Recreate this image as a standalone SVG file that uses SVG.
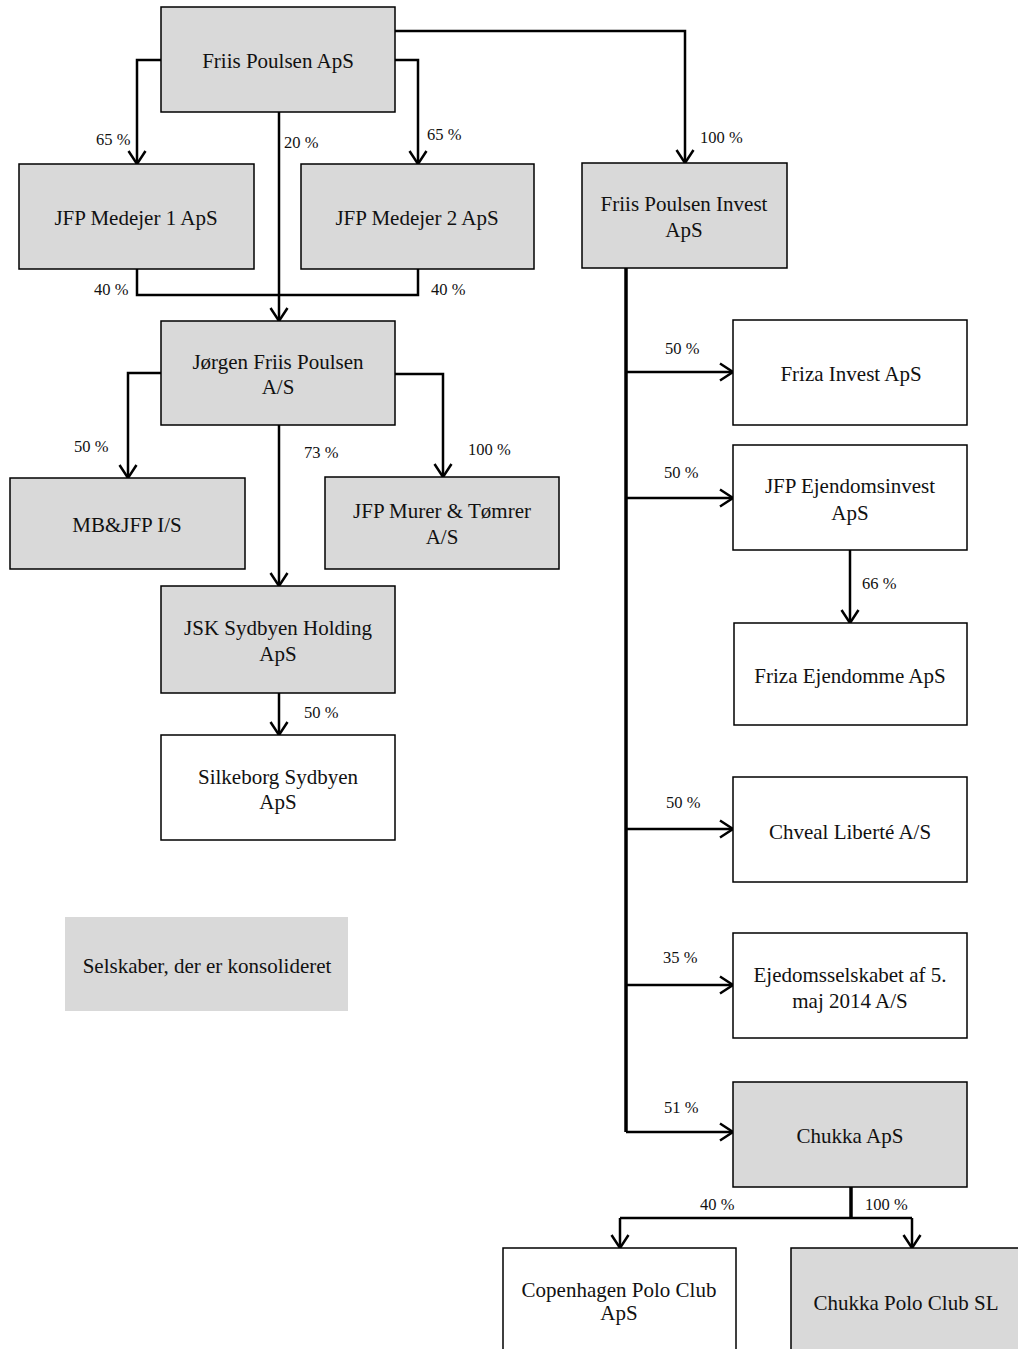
<svg xmlns="http://www.w3.org/2000/svg" width="1018" height="1349" viewBox="0 0 1018 1349">
<defs>
<marker id="arr" markerUnits="userSpaceOnUse" markerWidth="30" markerHeight="30" viewBox="-20 -15 30 30" refX="0" refY="0" orient="auto" overflow="visible">
<path d="M -13 -8.5 L 0 0 L -13 8.5" fill="none" stroke="#000" stroke-width="2.5" stroke-linejoin="miter"/>
</marker>
</defs>
<style>
.box{stroke:#000;stroke-width:1.5}
.g{fill:#d9d9d9}
.w{fill:#fff}
.t{font-family:"Liberation Serif","Times New Roman",serif;font-size:21px;fill:#111;text-anchor:middle}
.p{font-family:"Liberation Serif","Times New Roman",serif;font-size:16.5px;fill:#111}
.c{fill:none;stroke:#000;stroke-width:2.5}
.k{fill:none;stroke:#000;stroke-width:3.5}
.a{marker-end:url(#arr)}
</style>
<rect width="1018" height="1349" fill="#fff"/>

<g id="connectors">
<polyline class="c a" points="395,31 685,31 685,163"/>
<polyline class="c a" points="161,60 137,60 137,164"/>
<polyline class="c a" points="395,60 418,60 418,164"/>
<polyline class="c a" points="279,112 279,321"/>
<polyline class="c" points="137,269 137,295 418,295 418,269"/>
<polyline class="c a" points="161,373 128,373 128,478"/>
<polyline class="c a" points="395,374 443,374 443,477"/>
<polyline class="c a" points="279,425 279,586"/>
<polyline class="c a" points="279,693 279,735"/>
<polyline class="k" points="626,268 626,1132"/>
<polyline class="c a" points="626,372 733,372"/>
<polyline class="c a" points="626,498 733,498"/>
<polyline class="c a" points="626,829 733,829"/>
<polyline class="c a" points="626,985 733,985"/>
<polyline class="c a" points="626,1132 733,1132"/>
<polyline class="c a" points="850,550 850,623"/>
<polyline class="k" points="851,1187 851,1218"/>
<polyline class="c" points="620,1218 912,1218"/>
<polyline class="c a" points="620,1218 620,1248"/>
<polyline class="c a" points="912,1218 912,1248"/>
<text class="p" x="96" y="145">65 %</text>
<text class="p" x="284" y="148">20 %</text>
<text class="p" x="427" y="140">65 %</text>
<text class="p" x="700" y="143">100 %</text>
<text class="p" x="94" y="295">40 %</text>
<text class="p" x="431" y="295">40 %</text>
<text class="p" x="74" y="452">50 %</text>
<text class="p" x="304" y="458">73 %</text>
<text class="p" x="468" y="455">100 %</text>
<text class="p" x="304" y="718">50 %</text>
<text class="p" x="665" y="354">50 %</text>
<text class="p" x="664" y="478">50 %</text>
<text class="p" x="862" y="589">66 %</text>
<text class="p" x="666" y="808">50 %</text>
<text class="p" x="663" y="963">35 %</text>
<text class="p" x="664" y="1113">51 %</text>
<text class="p" x="700" y="1210">40 %</text>
<text class="p" x="865" y="1210">100 %</text>
</g>

<g id="friis-poulsen-aps">
<rect class="box g" x="161" y="7" width="234" height="105"/>
<text class="t" x="278" y="68">Friis Poulsen ApS</text>
</g>
<g id="jfp-medejer-1">
<rect class="box g" x="19" y="164" width="235" height="105"/>
<text class="t" x="136" y="225">JFP Medejer 1 ApS</text>
</g>
<g id="jfp-medejer-2">
<rect class="box g" x="301" y="164" width="233" height="105"/>
<text class="t" x="417" y="225">JFP Medejer 2 ApS</text>
</g>
<g id="friis-poulsen-invest">
<rect class="box g" x="582" y="163" width="205" height="105"/>
<text class="t" x="684" y="211">Friis Poulsen Invest</text>
<text class="t" x="684" y="237">ApS</text>
</g>
<g id="jorgen-friis-poulsen">
<rect class="box g" x="161" y="321" width="234" height="104"/>
<text class="t" x="278" y="369">Jørgen Friis Poulsen</text>
<text class="t" x="278" y="394">A/S</text>
</g>
<g id="mb-jfp">
<rect class="box g" x="10" y="478" width="235" height="91"/>
<text class="t" x="127" y="532">MB&amp;JFP I/S</text>
</g>
<g id="jfp-murer">
<rect class="box g" x="325" y="477" width="234" height="92"/>
<text class="t" x="442" y="518">JFP Murer &amp; Tømrer</text>
<text class="t" x="442" y="544">A/S</text>
</g>
<g id="jsk-sydbyen">
<rect class="box g" x="161" y="586" width="234" height="107"/>
<text class="t" x="278" y="635">JSK Sydbyen Holding</text>
<text class="t" x="278" y="661">ApS</text>
</g>
<g id="silkeborg-sydbyen">
<rect class="box w" x="161" y="735" width="234" height="105"/>
<text class="t" x="278" y="784">Silkeborg Sydbyen</text>
<text class="t" x="278" y="809">ApS</text>
</g>
<g id="legend">
<rect class="g" x="65" y="917" width="283" height="94"/>
<text class="t" x="207" y="973">Selskaber, der er konsolideret</text>
</g>
<g id="friza-invest">
<rect class="box w" x="733" y="320" width="234" height="105"/>
<text class="t" x="851" y="381">Friza Invest ApS</text>
</g>
<g id="jfp-ejendomsinvest">
<rect class="box w" x="733" y="445" width="234" height="105"/>
<text class="t" x="850" y="493">JFP Ejendomsinvest</text>
<text class="t" x="850" y="520">ApS</text>
</g>
<g id="friza-ejendomme">
<rect class="box w" x="734" y="623" width="233" height="102"/>
<text class="t" x="850" y="683">Friza Ejendomme ApS</text>
</g>
<g id="chveal-liberte">
<rect class="box w" x="733" y="777" width="234" height="105"/>
<text class="t" x="850" y="839">Chveal Liberté A/S</text>
</g>
<g id="ejedomsselskabet">
<rect class="box w" x="733" y="933" width="234" height="105"/>
<text class="t" x="850" y="982">Ejedomsselskabet af 5.</text>
<text class="t" x="850" y="1008">maj 2014 A/S</text>
</g>
<g id="chukka-aps">
<rect class="box g" x="733" y="1082" width="234" height="105"/>
<text class="t" x="850" y="1143">Chukka ApS</text>
</g>
<g id="copenhagen-polo-club">
<rect class="box w" x="503" y="1248" width="233" height="110"/>
<text class="t" x="619" y="1297">Copenhagen Polo Club</text>
<text class="t" x="619" y="1320">ApS</text>
</g>
<g id="chukka-polo-club-sl">
<rect class="box g" x="791" y="1248" width="232" height="110"/>
<text class="t" x="906" y="1310">Chukka Polo Club SL</text>
</g>
</svg>
